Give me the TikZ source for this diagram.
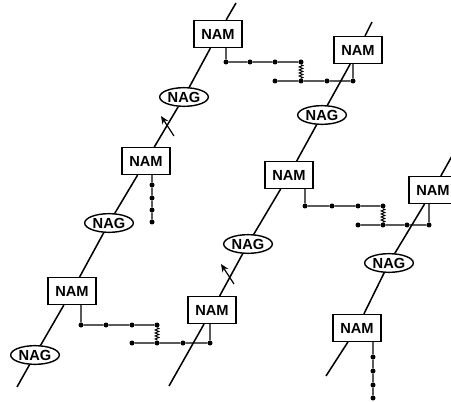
\documentclass[tikz,border=0pt]{standalone}
\usepackage{fontspec}
\setsansfont{Liberation Sans}
\usetikzlibrary{shapes.geometric,arrows.meta,decorations.pathmorphing}

\begin{document}
\begin{tikzpicture}[scale=0.03]
\tikzstyle{every node}+=[inner sep=0pt, font=\sffamily\bfseries\fontsize{12.5}{14}\selectfont]
\tikzstyle{nam}=[draw, line width=1.3pt, minimum width=1.44cm, minimum height=0.8cm]
\tikzstyle{nag}=[draw, ellipse, line width=1.2pt, minimum width=1.46cm, minimum height=0.56cm]
\tikzstyle{strand}=[line width=1.3pt]
\tikzstyle{dot}=[circle, fill=black, minimum size=0.15cm]
\tikzstyle{link}=[line width=0.9pt]
\tikzstyle{spring}=[line width=0.8pt, decorate, decoration={zigzag, amplitude=0.055cm, segment length=0.09cm}]
\tikzstyle{flux}=[line width=1pt, -{Stealth[length=0.24cm, width=0.2cm]}]
\useasboundingbox (0,0) rectangle (451,-402);
% strand 1
\coordinate (s1top) at (236,-3);
\coordinate (s1bot) at (17,-387);
\node [nam] (nam1) at (218,-34) {NAM};
\node [nag] (nag1) at (184,-97) {NAG};
\node [nam] (nam2) at (146,-161) {NAM};
\node [nag] (nag2) at (109,-223) {NAG};
\node [nam] (nam3) at (72,-291) {NAM};
\node [nag] (nag3) at (35,-355) {NAG};
\draw [strand] (s1top) -- (nam1) -- (nag1) -- (nam2) -- (nag2) -- (nam3) -- (nag3) -- (s1bot);
% strand 2
\coordinate (s2top) at (372,-22);
\coordinate (s2bot) at (169,-386);
\node [nam] (nam5) at (358,-50) {NAM};
\node [nag] (nag4) at (322,-115) {NAG};
\node [nam] (nam6) at (289,-175) {NAM};
\node [nag] (nag5) at (248,-244) {NAG};
\node [nam] (nam4) at (212,-310) {NAM};
\draw [strand] (s2top) -- (nam5) -- (nag4) -- (nam6) -- (nag5) -- (nam4) -- (s2bot);
% strand 3
\coordinate (s3top) at (461,-140);
\coordinate (s3bot) at (326,-376);
\node [nam] (nam7) at (433,-190) {NAM};
\node [nag] (nag6) at (389,-263) {NAG};
\node [nam] (nam8) at (357,-328) {NAM};
\draw [strand] (s3top) -- (nam7) -- (nag6) -- (nam8) -- (s3bot);
% arrows across strands
\coordinate (t1) at (174,-136);
\coordinate (h1) at (161,-116);
\draw [flux] (t1) -- (h1);
\coordinate (t2) at (234,-284);
\coordinate (h2) at (221,-264);
\draw [flux] (t2) -- (h2);
% chain nam1 -> nam5
\node [dot] (a1) at (226,-62) {};
\node [dot] (a2) at (250,-62) {};
\node [dot] (a3) at (275,-62) {};
\node [dot] (a4) at (301,-62) {};
\node [dot] (b1) at (275,-81) {};
\node [dot] (b2) at (301,-81) {};
\node [dot] (b3) at (327,-81) {};
\node [dot] (b4) at (353,-81) {};
\draw [link] (nam1.south -| a1) -- (a1) -- (a2) -- (a3) -- (a4);
\draw [spring] (a4) -- (b2);
\draw [link] (b1) -- (b2) -- (b3) -- (b4) -- (b4 |- nam5.south);
% chain nam3 -> nam4
\node [dot] (c1) at (81,-325) {};
\node [dot] (c2) at (106,-325) {};
\node [dot] (c3) at (132,-325) {};
\node [dot] (c4) at (157,-325) {};
\node [dot] (d1) at (132,-343) {};
\node [dot] (d2) at (157,-343) {};
\node [dot] (d3) at (183,-343) {};
\node [dot] (d4) at (210,-343) {};
\draw [link] (nam3.south -| c1) -- (c1) -- (c2) -- (c3) -- (c4);
\draw [spring] (c4) -- (d2);
\draw [link] (d1) -- (d2) -- (d3) -- (d4) -- (d4 |- nam4.south);
% chain nam6 -> nam7
\node [dot] (e1) at (305,-206) {};
\node [dot] (e2) at (332,-206) {};
\node [dot] (e3) at (358,-206) {};
\node [dot] (e4) at (383,-206) {};
\node [dot] (f1) at (358,-225) {};
\node [dot] (f2) at (383,-225) {};
\node [dot] (f3) at (407,-225) {};
\node [dot] (f4) at (429,-225) {};
\draw [link] (nam6.south -| e1) -- (e1) -- (e2) -- (e3) -- (e4);
\draw [spring] (e4) -- (f2);
\draw [link] (f1) -- (f2) -- (f3) -- (f4) -- (f4 |- nam7.south);
% hanging chains
\node [dot] (g1) at (152,-185) {};
\node [dot] (g2) at (152,-198) {};
\node [dot] (g3) at (152,-210) {};
\node [dot] (g4) at (152,-222) {};
\draw [link] (nam2.south -| g1) -- (g1) -- (g2) -- (g3) -- (g4);
\node [dot] (k1) at (373,-357) {};
\node [dot] (k2) at (373,-371) {};
\node [dot] (k3) at (373,-385) {};
\node [dot] (k4) at (373,-398) {};
\draw [link] (nam8.south -| k1) -- (k1) -- (k2) -- (k3) -- (k4);
\end{tikzpicture}
\end{document}
